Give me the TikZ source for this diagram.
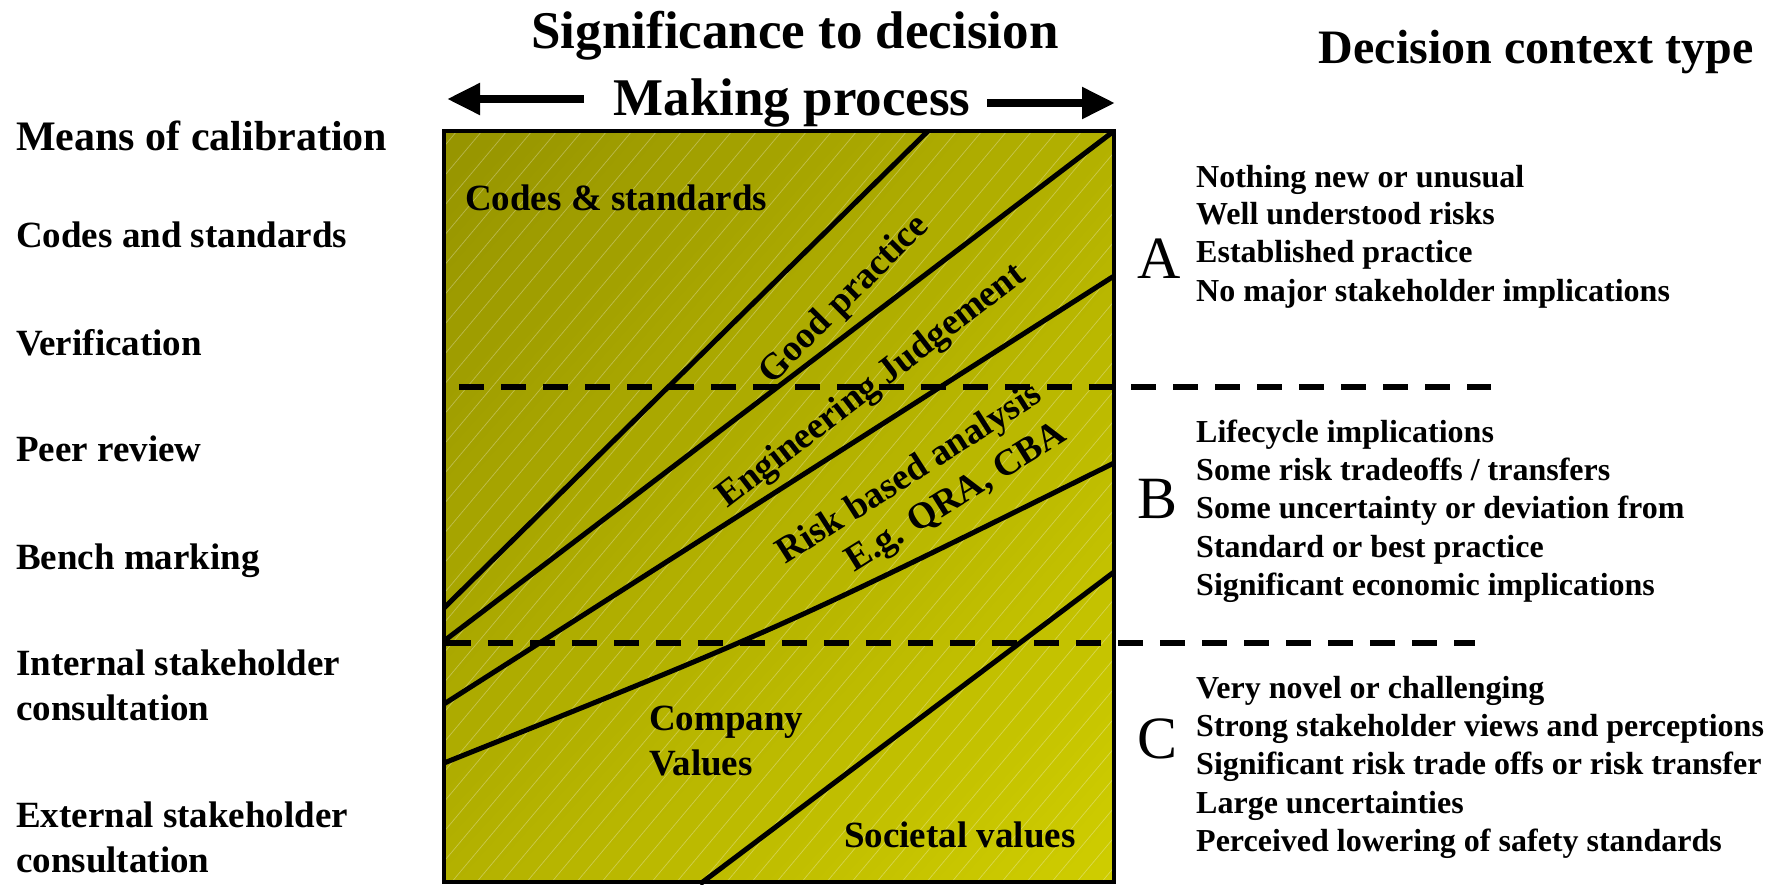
\documentclass[tikz,border=0pt]{standalone}
\usepackage{fontspec}
\setmainfont{Liberation Serif}
\usetikzlibrary{arrows.meta,shadings}
\definecolor{olivedark}{RGB}{150,148,0}
\definecolor{olivemid}{RGB}{179,177,0}
\definecolor{olivelight}{RGB}{207,205,0}
\begin{document}
\begin{tikzpicture}[x=1pt,y=-1pt,
  titletxt/.style={anchor=base, inner sep=0pt, font=\fontsize{53}{56}\selectfont\bfseries},
  headtxt/.style={anchor=base, inner sep=0pt, font=\fontsize{48}{50}\selectfont\bfseries},
  leftlbl/.style={anchor=base west, inner sep=0pt, font=\fontsize{37}{40}\selectfont\bfseries},
  ctxtxt/.style={anchor=base west, inner sep=0pt, font=\fontsize{32}{34}\selectfont\bfseries},
  ctxletter/.style={anchor=base west, inner sep=0pt, font=\fontsize{60}{62}\selectfont},
  boxtxt/.style={anchor=base west, inner sep=0pt, font=\fontsize{37}{40}\selectfont\bfseries},
  rottxt/.style={anchor=center, inner sep=0pt, font=\fontsize{37}{40}\selectfont\bfseries},
  divline/.style={line width=5pt},
  dashline/.style={line width=6pt, dash pattern=on 25pt off 17pt},
  bigarrow/.style={line width=8pt, -{Triangle[length=33pt 0, width=30pt 0]}},
  hatchline/.style={white, opacity=0.3, line width=0.7pt}
]
\useasboundingbox (0,0) rectangle (1771,884);

% box corners
\coordinate (TL) at (444,131);
\coordinate (BR) at (1114,882);

% gradient fill
\shade[upper left=olivedark, lower right=olivelight, upper right=olivemid, lower left=olivemid] (TL) rectangle (BR);
% hatch
\begin{scope}
  \clip (TL) rectangle (BR);
  \foreach \x in {-200,-175,...,1125} {
    \draw[hatchline] (\x,884) -- ++(632,-753);
  }
\end{scope}

% dividing lines
\coordinate (l1a) at (444,608);  \coordinate (l1b) at (928,131);
\coordinate (l2a) at (444,641);  \coordinate (l2b) at (1114,131);
\coordinate (l3a) at (444,704);  \coordinate (l3b) at (1114,276);
\coordinate (l4a) at (444,763);  \coordinate (l4c) at (779,629); \coordinate (l4b) at (1114,463);
\coordinate (l5a) at (700,884);  \coordinate (l5b) at (1114,572);
\draw[divline] (l1a) -- (l1b);
\draw[divline] (l2a) -- (l2b);
\draw[divline] (l3a) -- (l3b);
\draw[divline] (l4a) .. controls (l4c) .. (l4b);
\draw[divline] (l5a) -- (l5b);

% box border
\draw[line width=4.8pt] (TL) rectangle (BR);

% dashed separators
\coordinate (d1a) at (459,387); \coordinate (d1b) at (1491,387);
\coordinate (d2a) at (446,643); \coordinate (d2b) at (1475,643);
\draw[dashline] (d1a) -- (d1b);
\draw[dashline] (d2a) -- (d2b);

% titles and arrows
\node[titletxt] (title1) at (795,48) {Significance to decision};
\node[titletxt] (title2) at (792,115) {Making process};
\coordinate (al0) at (584,99); \coordinate (al1) at (447,99);
\coordinate (ar0) at (987,103); \coordinate (ar1) at (1115,103);
\draw[bigarrow] (al0) -- (al1);
\draw[bigarrow] (ar0) -- (ar1);
\node[headtxt] (head) at (1536,63) {Decision context type};

% left labels
\node[leftlbl, font=\fontsize{42}{44}\selectfont\bfseries] (m0) at (16,150) {Means of calibration};
\node[leftlbl] (m1) at (16,247) {Codes and standards};
\node[leftlbl] (m2) at (16,355) {Verification};
\node[leftlbl] (m3) at (16,461) {Peer review};
\node[leftlbl] (m4) at (16,569) {Bench marking};
\node[leftlbl] (m5) at (16,675) {Internal stakeholder};
\node[leftlbl] (m5b) at (16,720) {consultation};
\node[leftlbl] (m6) at (16,827) {External stakeholder};
\node[leftlbl] (m6b) at (16,872) {consultation};

% in-box labels
\node[boxtxt] (codes) at (465,210) {Codes \& standards};
\node[rottxt, rotate=45] (good) at (845,300) {Good practice};
\node[rottxt, rotate=37.5] (eng) at (872,387) {Engineering Judgement};
\node[rottxt, rotate=32.5] (risk) at (910,475) {Risk based analysis};
\node[rottxt, rotate=32] (eg) at (957,499) {E.g. QRA, CBA};
\node[boxtxt] (comp1) at (649,730) {Company};
\node[boxtxt] (comp2) at (649,775) {Values};
\node[boxtxt] (soc) at (844,847) {Societal values};

% context A
\node[ctxletter] (A) at (1137,278) {A};
\node[ctxtxt] (a1) at (1196,187) {Nothing new or unusual};
\node[ctxtxt] (a2) at (1196,224) {Well understood risks};
\node[ctxtxt] (a3) at (1196,262) {Established practice};
\node[ctxtxt] (a4) at (1196,301) {No major stakeholder implications};
% context B
\node[ctxletter] (B) at (1137,518) {B};
\node[ctxtxt] (b1) at (1196,442) {Lifecycle implications};
\node[ctxtxt] (b2) at (1196,480) {Some risk tradeoffs / transfers};
\node[ctxtxt] (b3) at (1196,518) {Some uncertainty or deviation from};
\node[ctxtxt] (b4) at (1196,557) {Standard or best practice};
\node[ctxtxt] (b5) at (1196,595) {Significant economic implications};
% context C
\node[ctxletter] (C) at (1137,758) {C};
\node[ctxtxt] (c1) at (1196,698) {Very novel or challenging};
\node[ctxtxt] (c2) at (1196,736) {Strong stakeholder views and perceptions};
\node[ctxtxt] (c3) at (1196,774) {Significant risk trade offs or risk transfer};
\node[ctxtxt] (c4) at (1196,813) {Large uncertainties};
\node[ctxtxt] (c5) at (1196,851) {Perceived lowering of safety standards};
\end{tikzpicture}
\end{document}
